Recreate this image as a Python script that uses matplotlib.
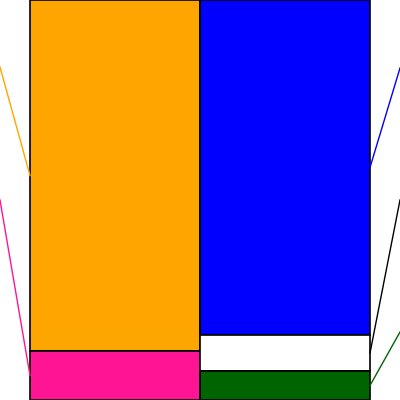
import matplotlib
matplotlib.use("Agg")
import matplotlib.pyplot as plt

# left column (assets) and right column (liabilities + equity), percent of total
left_names = ["Current assets", "Fixed assets"]
left_values = [87.75, 12.25]
left_colors = ["orange", "deeppink"]

right_names = ["Net assets", "Current liabilities", "Fixed liabilities"]
right_values = [83.75, 9.0, 7.25]
right_colors = ["blue", "white", "darkgreen"]
right_line_colors = ["blue", "black", "darkgreen"]

# label anchor heights (outside the frame, in data units)
left_label_y = [83.25, 50.0]
right_label_y = [83.0, 50.0, 17.0]

fig = plt.figure(figsize=(4, 4), dpi=100)
ax = fig.add_axes([0, 0, 1, 1])
pad = 30 / 170
ax.set_xlim(-pad, 2 + pad)
ax.set_ylim(0, 100)
ax.axis("off")

top = 100
for val, col in zip(left_values, left_colors):
    ax.bar(0, val, width=1, bottom=top - val, align="edge",
           color=col, edgecolor="black", linewidth=1.2)
    top -= val

top = 100
for val, col in zip(right_values, right_colors):
    ax.bar(1, val, width=1, bottom=top - val, align="edge",
           color=col, edgecolor="black", linewidth=1.2)
    top -= val

# connector lines to the (cropped) labels
top = 100
for val, col, ly in zip(left_values, left_colors, left_label_y):
    mid = top - val / 2
    ax.plot([-pad, 0], [ly, mid], color=col, linewidth=1, clip_on=False)
    top -= val

top = 100
for val, col, ly in zip(right_values, right_line_colors, right_label_y):
    mid = top - val / 2
    ax.plot([2, 2 + pad], [mid, ly], color=col, linewidth=1, clip_on=False)
    top -= val

fig.savefig("out.png", dpi=100)
